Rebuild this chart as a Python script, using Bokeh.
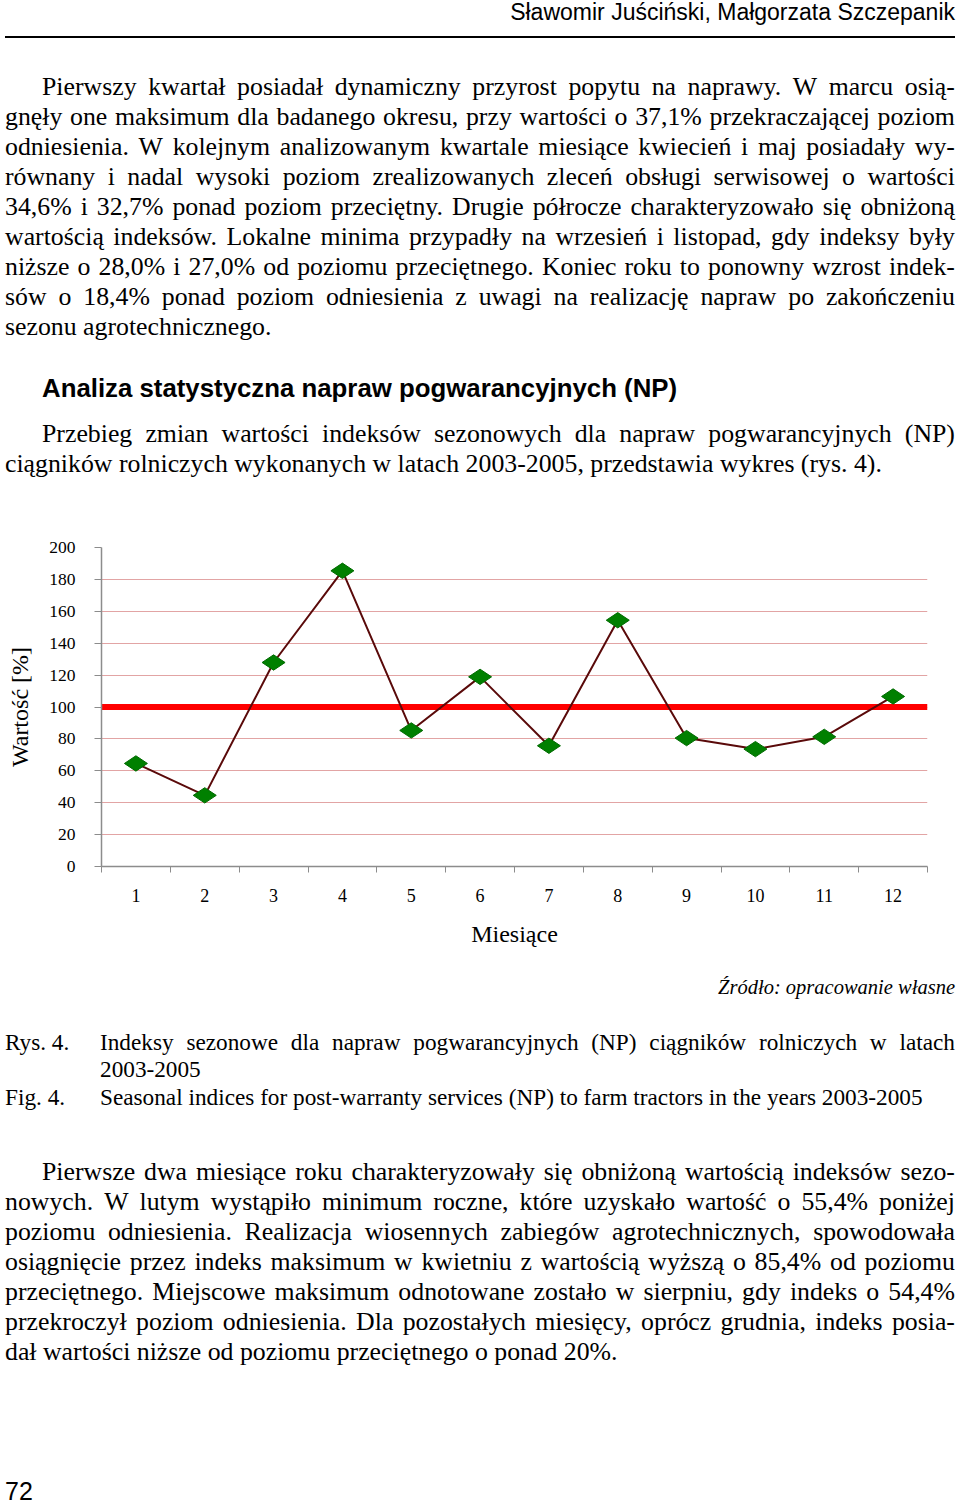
import math
from html import escape
from bokeh.plotting import figure
from bokeh.models import Range1d, FixedTicker, Span, Div
from bokeh.layouts import column
from bokeh.embed import file_html
from bokeh.resources import INLINE

# ---------------- data ----------------
months = [1, 2, 3, 4, 5, 6, 7, 8, 9, 10, 11, 12]
index_values = [64.6, 44.6, 127.9, 185.4, 85.3, 118.9, 75.7, 154.4, 80.5, 73.6, 81.3, 106.6]
y_ticks = [0, 20, 40, 60, 80, 100, 120, 140, 160, 180, 200]
reference_level = 100

header_text = "Sławomir Juściński, Małgorzata Szczepanik"
para1 = [
    "Pierwszy kwartał posiadał dynamiczny przyrost popytu na naprawy. W marcu osią-",
    "gnęły one maksimum dla badanego okresu, przy wartości o 37,1% przekraczającej poziom",
    "odniesienia. W kolejnym analizowanym kwartale miesiące kwiecień i maj posiadały wy-",
    "równany i nadal wysoki poziom zrealizowanych zleceń obsługi serwisowej o wartości",
    "34,6% i 32,7% ponad poziom przeciętny. Drugie półrocze charakteryzowało się obniżoną",
    "wartością indeksów. Lokalne minima przypadły na wrzesień i listopad, gdy indeksy były",
    "niższe o 28,0% i 27,0% od poziomu przeciętnego. Koniec roku to ponowny wzrost indek-",
    "sów o 18,4% ponad poziom odniesienia z uwagi na realizację napraw po zakończeniu",
    "sezonu agrotechnicznego.",
]
heading = "Analiza statystyczna napraw pogwarancyjnych (NP)"
para2 = [
    "Przebieg zmian wartości indeksów sezonowych dla napraw pogwarancyjnych (NP)",
    "ciągników rolniczych wykonanych w latach 2003-2005, przedstawia wykres (rys. 4).",
]
source_text = "Źródło: opracowanie własne"
caption_pl = ["Indeksy sezonowe dla napraw pogwarancyjnych (NP) ciągników rolniczych w latach", "2003-2005"]
caption_en = "Seasonal indices for post-warranty services (NP) to farm tractors in the years 2003-2005"
para3 = [
    "Pierwsze dwa miesiące roku charakteryzowały się obniżoną wartością indeksów sezo-",
    "nowych. W lutym wystąpiło minimum roczne, które uzyskało wartość o 55,4% poniżej",
    "poziomu odniesienia. Realizacja wiosennych zabiegów agrotechnicznych, spowodowała",
    "osiągnięcie przez indeks maksimum w kwietniu z wartością wyższą o 85,4% od poziomu",
    "przeciętnego. Miejscowe maksimum odnotowane zostało w sierpniu, gdy indeks o 54,4%",
    "przekroczył poziom odniesienia. Dla pozostałych miesięcy, oprócz grudnia, indeks posia-",
    "dał wartości niższe od poziomu przeciętnego o ponad 20%.",
]
page_number = "72"

PW = 960          # page width
L0 = 5            # text left edge
TW = 950          # text width (5..955)
IND = 37          # first-line indent
BODY = 25.8
SERIF = "'Liberation Serif','Times New Roman',serif"
SANS = "'Liberation Sans',Arial,sans-serif"


def jline(text, top, left, width, size=BODY, lh=30, font=SERIF):
    spans = "".join("<span>%s</span>" % escape(w) for w in text.split(" "))
    return ('<div style="position:absolute;left:%spx;top:%spx;width:%spx;display:flex;'
            'justify-content:space-between;white-space:nowrap;font-family:%s;font-size:%spx;'
            'line-height:%spx;color:#000">%s</div>') % (left, top, width, font, size, lh, spans)


def pline(text, top, left, width, size=BODY, lh=30, font=SERIF, align="left", extra=""):
    return ('<div style="position:absolute;left:%spx;top:%spx;width:%spx;text-align:%s;'
            'white-space:nowrap;font-family:%s;font-size:%spx;line-height:%spx;color:#000;%s">%s</div>') % (
        left, top, width, align, font, size, lh, extra, escape(text))


def paragraph(lines, top0, step=30):
    out = []
    for i, t in enumerate(lines):
        top = top0 + i * step
        ind = IND if i == 0 else 0
        if i == len(lines) - 1:
            out.append(pline(t, top, L0 + ind, TW - ind))
        else:
            out.append(jline(t, top, L0 + ind, TW - ind))
    return out


# ---------------- top text (0..520) ----------------
top_parts = [pline(header_text, 0, 0, 955, size=23, lh=24, font=SANS, align="right"),
             '<div style="position:absolute;left:%dpx;top:36px;width:%dpx;height:2px;background:#000"></div>' % (L0, TW)]
top_parts += paragraph(para1, 72)
top_parts.append(pline(heading, 373, L0 + IND, TW - IND, size=25.8, lh=30, font=SANS, extra="font-weight:bold"))
top_parts += paragraph(para2, 419)
top_div = Div(text='<div style="position:relative;width:%dpx;height:520px">%s</div>' % (PW, "".join(top_parts)),
              width=PW, height=520, margin=(0, 0, 0, 0))

# ---------------- chart (520..960) ----------------
p = figure(width=PW, height=440, output_backend="svg", toolbar_location=None,
           x_range=Range1d(0.5, 12.5), y_range=Range1d(0, 200),
           min_border_left=101, min_border_right=33, min_border_top=27, min_border_bottom=94)
p.outline_line_color = None
p.background_fill_color = "white"
p.border_fill_color = "white"
p.xgrid.visible = False
p.ygrid.ticker = FixedTicker(ticks=y_ticks)
p.ygrid.grid_line_color = "#e2a4a4"
p.ygrid.grid_line_width = 1

xa = p.xaxis[0]
xa.ticker = FixedTicker(ticks=months, minor_ticks=[m - 0.5 for m in months] + [months[-1] + 0.5])
xa.major_tick_out = 0
xa.major_tick_in = 0
xa.minor_tick_out = 6
xa.minor_tick_in = 0
xa.minor_tick_line_color = "#8c8c8c"
xa.axis_line_color = "#8c8c8c"
xa.axis_line_width = 1.5
xa.major_label_text_font = "Liberation Serif"
xa.major_label_text_font_size = "18px"
xa.major_label_text_color = "#000000"
xa.major_label_standoff = 16
xa.axis_label = "Miesiące"
xa.axis_label_text_font = "Liberation Serif"
xa.axis_label_text_font_size = "24px"
xa.axis_label_text_font_style = "normal"
xa.axis_label_text_color = "#000000"
xa.axis_label_standoff = 16

ya = p.yaxis[0]
ya.ticker = FixedTicker(ticks=y_ticks)
ya.major_tick_out = 7
ya.major_tick_in = 0
ya.minor_tick_out = 0
ya.minor_tick_in = 0
ya.major_tick_line_color = "#8c8c8c"
ya.axis_line_color = "#8c8c8c"
ya.axis_line_width = 1.5
ya.major_label_text_font = "Liberation Serif"
ya.major_label_text_font_size = "17.5px"
ya.major_label_text_color = "#000000"
ya.major_label_standoff = 19
ya.axis_label = "Wartość [%]"
ya.axis_label_text_font = "Liberation Serif"
ya.axis_label_text_font_size = "24px"
ya.axis_label_text_font_style = "normal"
ya.axis_label_text_color = "#000000"
ya.axis_label_standoff = 13

ref = Span(location=reference_level, dimension="width", line_color="#ff0000", line_width=6, level="underlay")
p.add_layout(ref)

p.line(months, index_values, line_color="#5a0a0a", line_width=2)
p.scatter(months, index_values, marker="diamond", size=23, angle=math.pi / 2,
          fill_color="#008000", line_color="#006a00", line_width=1)

# ---------------- bottom text (960..1504) ----------------
CAP = 23.25
bot = [pline(source_text, 15, 0, 955, size=20.5, lh=24, align="right", extra="font-style:italic"),
       pline("Rys. 4.", 69, L0, 90, size=CAP, lh=27),
       jline(caption_pl[0], 69, 100, 855, size=CAP, lh=27),
       pline(caption_pl[1], 96, 100, 855, size=CAP, lh=27),
       pline("Fig. 4.", 124, L0, 90, size=CAP, lh=27),
       pline(caption_en, 124, 100, 855, size=CAP, lh=27)]
bot += paragraph(para3, 197)
bot.append(pline(page_number, 518, L0, 100, size=25, lh=26, font=SANS))
bottom_div = Div(text='<div style="position:relative;width:%dpx;height:544px">%s</div>' % (PW, "".join(bot)),
                 width=PW, height=544, margin=(0, 0, 0, 0))

layout = column(top_div, p, bottom_div, spacing=0)

open("out.html", "w", encoding="utf-8").write(file_html(layout, INLINE))
